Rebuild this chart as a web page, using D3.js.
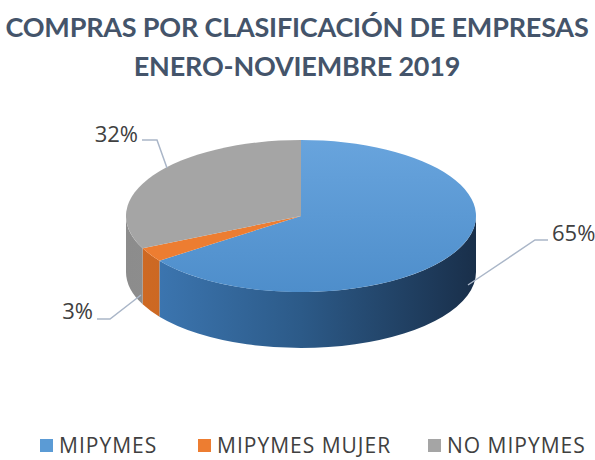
<!DOCTYPE html>
<html>
<head>
<meta charset="utf-8">
<script src="https://cdn.jsdelivr.net/npm/d3@7"></script>
<style>
  body { margin: 0; background: #fff; }
  svg { display: block; }
</style>
</head>
<body>
<script>
const categories = ["MIPYMES", "MIPYMES MUJER", "NO MIPYMES"];
const values = [65, 3, 32];
const valueLabels = ["65%", "3%", "32%"];
const colors = ["#5B9BD5", "#ED7D31", "#A5A5A5"];
const titleLines = ["COMPRAS POR CLASIFICACIÓN DE EMPRESAS", "ENERO-NOVIEMBRE 2019"];

const width = 595, height = 460;
const cx = 301, cy = 216, rx = 175, ry = 76, depth = 56;

const svg = d3.select("body")
    .append("svg")
    .attr("width", width)
    .attr("height", height);

const defs = svg.append("defs");

// side gradients
const sideStops = [
    [["0", "#3f7bb8"], ["0.5", "#2c5a88"], ["1", "#192f4a"]],
    [["0", "#cf6a24"], ["1", "#b45817"]],
    [["0", "#8c8c8c"], ["1", "#999999"]]
];
sideStops.forEach(function (stops, i) {
    const g = defs.append("linearGradient")
        .attr("id", "side-" + i)
        .attr("gradientUnits", "userSpaceOnUse")
        .attr("x1", cx - rx).attr("x2", cx + rx)
        .attr("y1", 0).attr("y2", 0);
    stops.forEach(function (s) {
        g.append("stop").attr("offset", s[0]).attr("stop-color", s[1]);
    });
});

const topGrad = defs.append("linearGradient")
    .attr("id", "top-0")
    .attr("x1", 0).attr("x2", 0).attr("y1", 0).attr("y2", 1);
topGrad.append("stop").attr("offset", "0").attr("stop-color", "#68a4dd");
topGrad.append("stop").attr("offset", "1").attr("stop-color", "#4e8ecb");

// title
svg.selectAll("text.title")
    .data(titleLines)
    .enter().append("text")
    .attr("class", "title")
    .attr("x", 297)
    .attr("y", function (d, i) { return 37 + i * 39; })
    .attr("text-anchor", "middle")
    .style("font-family", "Lato, 'Open Sans', sans-serif")
    .style("font-weight", "bold")
    .style("font-size", "27px")
    .style("letter-spacing", "-0.2px")
    .style("fill", "#44546A")
    .text(function (d) { return d; });

const arcs = d3.pie().sort(null).value(function (d) { return d; })(values);

function P(a, dy) {
    return [cx + rx * Math.sin(a), cy - ry * Math.cos(a) + (dy || 0)];
}

const pieGroup = svg.append("g").attr("class", "pie");

// side walls (front half only)
arcs.forEach(function (d, i) {
    const s = Math.max(d.startAngle, Math.PI / 2);
    const e = Math.min(d.endAngle, 3 * Math.PI / 2);
    if (s >= e) return;
    const p0 = P(s), p1 = P(e), p2 = P(e, depth), p3 = P(s, depth);
    const path = `M${p0} A${rx},${ry} 0 0 1 ${p1} L${p2} A${rx},${ry} 0 0 0 ${p3} Z`;
    pieGroup.append("path")
        .attr("d", path)
        .attr("fill", "url(#side-" + i + ")");
});

// tops
arcs.forEach(function (d, i) {
    const p0 = P(d.startAngle), p1 = P(d.endAngle);
    const large = (d.endAngle - d.startAngle) > Math.PI ? 1 : 0;
    const path = `M${cx},${cy} L${p0} A${rx},${ry} 0 ${large} 1 ${p1} Z`;
    pieGroup.append("path")
        .attr("d", path)
        .attr("fill", i === 0 ? "url(#top-0)" : colors[i]);
});

// data labels with leader lines
const labelPos = [
    {tx: 552, ty: 241, anchor: "start", line: [[468, 285], [535, 240], [548, 240]]},
    {tx: 93, ty: 319, anchor: "end", line: [[97, 319], [110, 319], [141, 295]]},
    {tx: 138, ty: 142, anchor: "end", line: [[142, 140], [157, 140], [167, 168]]}
];

const lineGen = d3.line();

svg.selectAll("path.leader")
    .data(labelPos)
    .enter().append("path")
    .attr("class", "leader")
    .attr("d", function (d) { return lineGen(d.line); })
    .attr("fill", "none")
    .attr("stroke", "#aab6c8")
    .attr("stroke-width", 1.5);

svg.selectAll("text.pct")
    .data(valueLabels)
    .enter().append("text")
    .attr("class", "pct")
    .attr("x", function (d, i) { return labelPos[i].tx; })
    .attr("y", function (d, i) { return labelPos[i].ty; })
    .attr("text-anchor", function (d, i) { return labelPos[i].anchor; })
    .style("font-family", "'Open Sans', sans-serif")
    .style("font-size", "22px")
    .style("fill", "#404040")
    .text(function (d) { return d; });

// legend
const legendX = [40, 198, 428];
const legend = svg.selectAll("g.legend")
    .data(categories)
    .enter().append("g")
    .attr("class", "legend")
    .attr("transform", function (d, i) { return `translate(${legendX[i]}, 439)`; });

legend.append("rect")
    .attr("width", 13)
    .attr("height", 13)
    .attr("fill", function (d, i) { return colors[i]; });

legend.append("text")
    .attr("x", 19)
    .attr("y", 14)
    .style("font-family", "'Open Sans', sans-serif")
    .style("font-size", "21px")
    .style("letter-spacing", "1px")
    .style("fill", "#404040")
    .text(function (d) { return d; });
</script>
</body>
</html>
